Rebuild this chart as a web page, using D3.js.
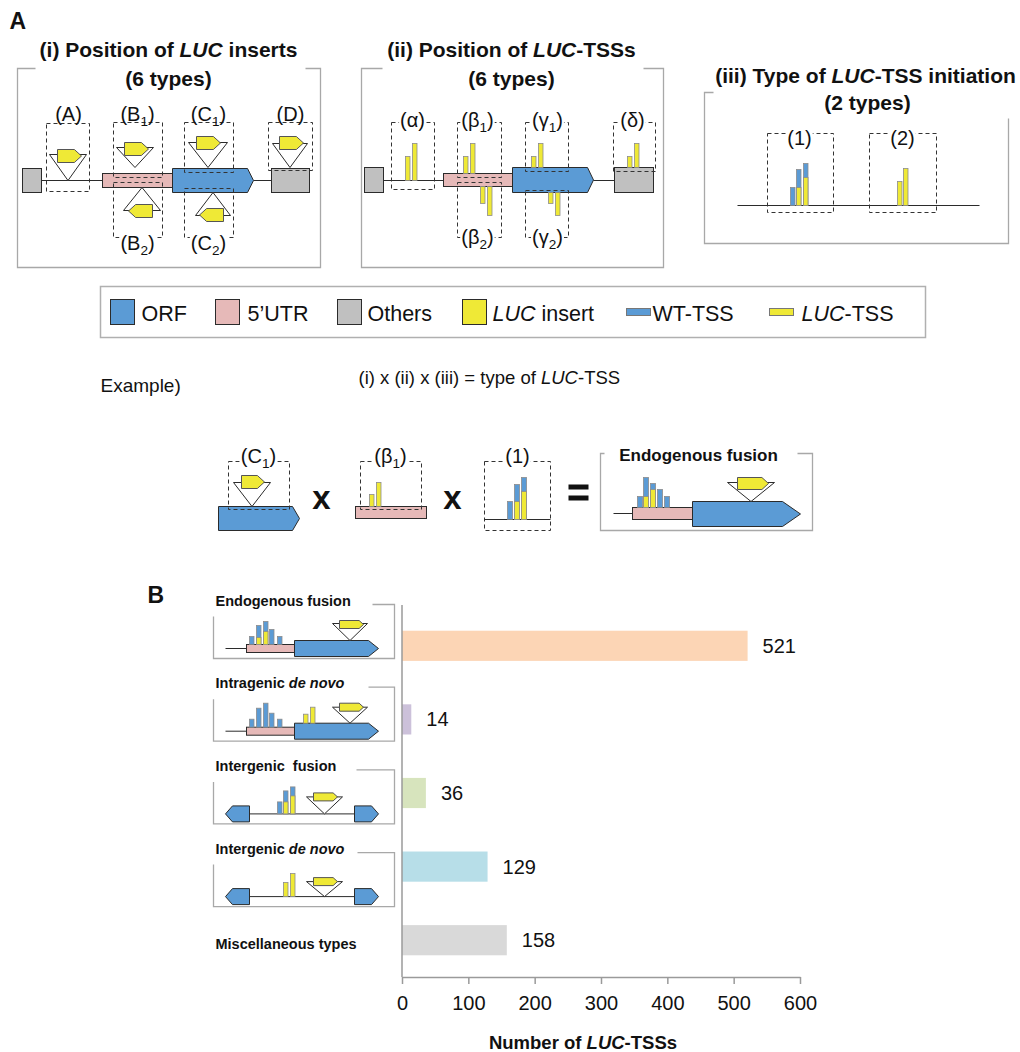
<!DOCTYPE html>
<html>
<head>
<meta charset="utf-8">
<script src="https://cdn.jsdelivr.net/npm/d3@7"></script>
<style>
  body { margin: 0; background: #fff; }
  svg { display: block; font-family: "Liberation Sans", Arial, Helvetica, sans-serif; }
  text { white-space: pre; }
</style>
</head>
<body>
<div id="fig"></div>
<script>
// ---- data (panel B) ----
const categories = ["Endogenous fusion", "Intragenic de novo", "Intergenic  fusion", "Intergenic de novo", "Miscellaneous types"];
const counts = [521, 14, 36, 129, 158];
const barColors = ["#fcd5b5", "#ccc1da", "#d7e4bd", "#b7dee8", "#d9d9d9"];
const xTicks = [0, 100, 200, 300, 400, 500, 600];
const legendLabels = ["ORF", "5\u2019UTR", "Others", "*LUC| insert", "WT-TSS", "*LUC|-TSS"];

const BLUE = "#5b9bd5", PINK = "#e6b9b8", GREY = "#c0c0c0", YEL = "#efe936";
const INK = "#2b2b2b", FRAME = "#a8a8a8", BAR_EDGE = "#8c8c8c";

const svg = d3.select("#fig").append("svg").attr("width", 1020).attr("height", 1052);
// schematics sit on half pixels so the thin strokes stay crisp
const g = svg.append("g").attr("transform", "translate(0.5,0.5)");
const gb = svg.append("g");

// ---- little drawing helpers for the schematics ----
function block(x0, x1, y0, y1, fill) {
  g.append("rect").attr("x", x0).attr("y", y0).attr("width", x1 - x0).attr("height", y1 - y0)
    .attr("fill", fill).attr("stroke", INK).attr("stroke-width", 1);
}
function gene(x0, x1, y0, y1, tip, dir) {
  const m = (y0 + y1) / 2;
  const pts = dir > 0
    ? [[x0, y0], [x1 - tip, y0], [x1, m], [x1 - tip, y1], [x0, y1]]
    : [[x1, y0], [x0 + tip, y0], [x0, m], [x0 + tip, y1], [x1, y1]];
  g.append("polygon").attr("points", pts.join(" ")).attr("fill", BLUE).attr("stroke", INK).attr("stroke-width", 1);
}
function hline(x0, x1, y, color = INK, w = 1) {
  g.append("line").attr("x1", x0).attr("x2", x1).attr("y1", y).attr("y2", y).attr("stroke", color).attr("stroke-width", w);
}
function pent(x, y, w, h, dir) {
  const t = h * 0.55, m = y + h / 2;
  const pts = dir > 0
    ? [[x, y], [x + w - t, y], [x + w, m], [x + w - t, y + h], [x, y + h]]
    : [[x + w, y], [x + t, y], [x, m], [x + t, y + h], [x + w, y + h]];
  g.append("polygon").attr("points", pts.join(" ")).attr("fill", YEL).attr("stroke", "#555").attr("stroke-width", 1);
}
function insert(x0, x1, baseY, apexY, px, py, pw, ph, dir) {
  g.append("polygon").attr("points", [[x0, baseY], [x1, baseY], [(x0 + x1) / 2, apexY]].join(" "))
    .attr("fill", "#fff").attr("stroke", INK).attr("stroke-width", 1);
  pent(px, py, pw, ph, dir);
}
function tss(x, base, top, fill, w = 4.5) {
  g.append("rect").attr("x", x).attr("y", Math.min(base, top)).attr("width", w).attr("height", Math.abs(base - top))
    .attr("fill", fill).attr("stroke", BAR_EDGE).attr("stroke-width", 0.8);
}
function stack(x, base, blueTop, yelTop, w) {
  tss(x, base, blueTop, BLUE, w);
  if (yelTop != null) tss(x, base, yelTop, YEL, w);
}
function dash(x0, y0, x1, y1) {
  g.append("rect").attr("x", x0).attr("y", y0).attr("width", x1 - x0).attr("height", y1 - y0)
    .attr("fill", "none").attr("stroke", "#333").attr("stroke-width", 1).attr("stroke-dasharray", "4,3");
}
function frame(d) {
  g.append("path").attr("d", d).attr("fill", "none").attr("stroke", FRAME).attr("stroke-width", 1.3);
}
function tag(cx, cy, main, sub, size = 20) {
  const t = g.append("text").attr("x", cx).attr("y", cy).attr("dy", "0.35em")
    .attr("text-anchor", "middle").attr("font-size", size).attr("fill", "#111");
  t.append("tspan").text("(" + main);
  if (sub) {
    t.append("tspan").attr("font-size", size * 0.68).attr("dy", size * 0.28).text(sub);
    t.append("tspan").attr("dy", -size * 0.28).text(")");
  } else t.append("tspan").text(")");
  const bb = t.node().getBBox();
  g.insert("rect", () => t.node()).attr("x", bb.x - 1).attr("y", cy - size * 0.4)
    .attr("width", bb.width + 2).attr("height", size * 0.8).attr("fill", "#fff");
}
// text with "*italic|" pieces
function rich(x, y, str, size, opts = {}) {
  const t = (opts.layer || g).append("text").attr("x", x).attr("y", y).attr("font-size", size)
    .attr("font-weight", opts.bold ? "bold" : null).attr("text-anchor", opts.anchor || "start").attr("fill", "#111");
  str.split(/(\*[^|]*\|)/).filter(s => s.length).forEach(s => {
    const it = s.startsWith("*");
    t.append("tspan").attr("font-style", it ? "italic" : null).text(it ? s.slice(1, -1) : s);
  });
  return t;
}

// ---- panel letters ----
rich(9, 28, "A", 23, { bold: true });
rich(147, 602, "B", 23, { bold: true });

// ---- (i) Position of LUC inserts ----
rich(168, 56, "(i) Position of *LUC| inserts", 21, { bold: true, anchor: "middle" });
rich(168, 85, "(6 types)", 21, { bold: true, anchor: "middle" });
frame("M35,68 H17 V267 H320 V68 H305");
hline(41, 102, 180); hline(253, 271, 180);
block(22, 41, 168, 192, GREY);
block(102, 172, 173, 187, PINK);
gene(172, 253, 168, 192, 6, 1);
block(271, 309, 168, 192, GREY);
dash(46, 123, 89, 191);
dash(113, 122, 162, 177); dash(113, 182, 162, 237);
dash(184, 122, 233, 172); dash(184, 188, 233, 237);
dash(268, 122, 312, 170);
insert(49, 86, 154, 180, 57, 149, 24, 13, 1);
insert(116, 153, 147, 167, 124, 142, 24, 13, 1);
insert(123, 160, 210, 187, 128, 204, 24, 13, -1);
insert(188, 227, 142, 167, 196, 136, 24, 13, 1);
insert(195, 230, 215, 192, 199, 208, 24, 13, -1);
insert(272, 307, 143, 167, 279, 136, 24, 13, 1);
tag(68, 113, "A"); tag(137, 113, "B", "1"); tag(208, 113, "C", "1"); tag(290, 113, "D");
tag(137, 242, "B", "2"); tag(208, 242, "C", "2");

// ---- (ii) Position of LUC-TSSs ----
rich(511, 56, "(ii) Position of *LUC|-TSSs", 21, { bold: true, anchor: "middle" });
rich(511, 85, "(6 types)", 21, { bold: true, anchor: "middle" });
frame("M382,68 H361 V267 H663 V68 H643");
hline(383, 443, 180); hline(593, 614, 180);
block(364, 383, 167, 192, GREY);
block(443, 512, 173, 186, PINK);
gene(512, 593, 167, 192, 6, 1);
block(614, 653, 167, 192, GREY);
dash(391, 122, 434, 189);
dash(457, 122, 501, 177); dash(457, 182, 501, 237);
dash(525, 122, 568, 171); dash(525, 190, 568, 237);
dash(613, 122, 655, 171);
tss(405, 180, 156, YEL); tss(412, 180, 143, YEL);
tss(463, 173, 156, YEL); tss(470, 173, 143, YEL);
tss(480, 186, 203, YEL); tss(487, 186, 215, YEL);
tss(531, 167, 156, YEL); tss(538, 167, 143, YEL);
tss(548, 192, 203, YEL); tss(555, 192, 215, YEL);
tss(627, 167, 156, YEL); tss(634, 167, 143, YEL);
tag(412, 119, "\u03b1"); tag(477, 119, "\u03b2", "1"); tag(547, 119, "\u03b3", "1"); tag(632, 119, "\u03b4");
tag(477, 236, "\u03b2", "2"); tag(547, 236, "\u03b3", "2");

// ---- (iii) Type of LUC-TSS initiation ----
rich(865, 82, "(iii) Type of *LUC|-TSS initiation", 21, { bold: true, anchor: "middle" });
rich(867, 109, "(2 types)", 21, { bold: true, anchor: "middle" });
frame("M713,92 H704 V243 H1008 V118");
hline(737, 979, 205);
dash(767, 133, 833, 212); dash(869, 133, 936, 212);
stack(790, 205, 187, null, 4.5); stack(796, 205, 169, 187, 4.5); stack(803, 205, 163, 177, 4.5);
tss(897, 205, 181, YEL); tss(903, 205, 168, YEL);
tag(799, 137, "1"); tag(902, 137, "2");

// ---- legend ----
g.append("rect").attr("x", 100).attr("y", 286).attr("width", 825).attr("height", 51)
  .attr("fill", "none").attr("stroke", "#b0b0b0").attr("stroke-width", 1.5);
const legendSw = [[110, BLUE, "big"], [215, PINK, "big"], [337, GREY, "big"], [462, YEL, "big"], [626, BLUE, "small"], [769, YEL, "small"]];
const legendTx = [141, 247, 367, 492, 652, 801];
legendLabels.forEach((lab, i) => {
  const [sx, col, kind] = legendSw[i];
  if (kind === "big") g.append("rect").attr("x", sx).attr("y", 299).attr("width", 24).attr("height", 25)
    .attr("fill", col).attr("stroke", INK).attr("stroke-width", 1);
  else g.append("rect").attr("x", sx).attr("y", 308).attr("width", 24).attr("height", 7)
    .attr("fill", col).attr("stroke", "#777").attr("stroke-width", 1);
  rich(legendTx[i], 320, lab, 21.5);
});

// ---- example row ----
rich(100, 391, "Example)", 19);
rich(358, 383, "(i) x (ii) x (iii) = type of *LUC|-TSS", 18.5);
// (C1)
gene(218, 299, 506, 530, 7, 1);
dash(228, 461, 289, 509);
insert(233, 270, 482, 506, 241, 475, 23, 13, 1);
tag(258, 455, "C", "1");
rich(321, 508, "x", 33, { bold: true, anchor: "middle" });
// (beta1)
block(355, 426, 506, 518, PINK);
dash(360, 461, 421, 509);
tss(369, 506, 494, YEL); tss(376, 506, 482, YEL);
tag(390, 455, "\u03b2", "1");
rich(452, 508, "x", 33, { bold: true, anchor: "middle" });
// (1)
dash(484, 461, 550, 530);
hline(484, 550, 519);
stack(507, 519, 501, null, 5); stack(514, 519, 484, 501, 5); stack(521, 519, 477, 491, 5);
tag(517, 455, "1");
g.append("rect").attr("x", 568).attr("y", 484).attr("width", 20).attr("height", 5).attr("fill", "#111");
g.append("rect").attr("x", 568).attr("y", 495).attr("width", 20).attr("height", 5).attr("fill", "#111");
// result
frame("M604,453 H600 V530 H812 V453 H797");
rich(698, 460, "Endogenous fusion", 17, { bold: true, anchor: "middle" });
hline(613, 632, 513);
block(632, 692, 507, 519, PINK);
gene(692, 800, 501, 526, 18, 1);
stack(637, 507, 496, null, 5); stack(643, 507, 477, 496, 5); stack(650, 507, 483, 489, 5);
stack(657, 507, 489, null, 5); stack(664, 507, 496, null, 5);
insert(727, 774, 482, 501, 737, 477, 31, 12, 1);

// ---- panel B: schematics column ----
const catLabels = ["Endogenous fusion", "Intragenic *de novo|", "Intergenic  fusion", "Intergenic *de novo|", "Miscellaneous types"];
const lineStart = [372, 368, 356, 357];
catLabels.forEach((lab, i) => {
  const T = 604 + 82.7 * i;
  rich(215, i < 4 ? T + 1 : 948, lab, 14.5, { bold: true });
  if (i > 3) return;
  frame(`M${lineStart[i]},${T} H394 V${T + 54} H213 V${T + 12}`);
  if (i < 2) {
    hline(225, 246, T + 44);
    block(246, 294, T + 40, T + 48, PINK);
    gene(294, 378, T + 36, T + 52, 10, 1);
    if (i === 0) {
      const tops = [32, 21, 17, 25, 32], yel = [null, 33, 27, null, null];
      [249, 256, 263, 269, 277].forEach((bx, k) => stack(bx, T + 40, T + tops[k], yel[k] == null ? null : T + yel[k], 4.5));
      insert(332, 367, T + 19, T + 36, 339, T + 16, 24, 8, 1);
    } else {
      const tops = [32, 21, 16, 26, 32];
      [249, 256, 263, 269, 277].forEach((bx, k) => stack(bx, T + 40, T + tops[k], null, 4.5));
      tss(303, T + 36, T + 27, YEL); tss(310, T + 36, T + 20, YEL);
      insert(332, 367, T + 20, T + 36, 339, T + 16, 24, 8, 1);
    }
  } else {
    hline(249, 354, T + 44);
    gene(225, 249, T + 36, T + 52, 7, -1);
    gene(354, 378, T + 36, T + 52, 7, 1);
    if (i === 2) {
      stack(277, T + 44, T + 32, null, 4.5); stack(283, T + 44, T + 21, T + 32, 4.5); stack(290, T + 44, T + 17, T + 26, 4.5);
      insert(306, 342, T + 27, T + 44, 313, T + 23, 24, 8, 1);
    } else {
      tss(283, T + 44, T + 30, YEL); tss(290, T + 44, T + 21, YEL);
      insert(306, 342, T + 29, T + 44, 313, T + 25, 24, 8, 1);
    }
  }
});

// ---- panel B: bar chart ----
const x = d3.scaleLinear().domain([0, 600]).range([402, 800]);
const y = d3.scaleBand().domain(categories).range([609, 977]).paddingInner(0.59).paddingOuter(0.295);

gb.selectAll(".bar")
  .data(categories)
  .join("rect")
  .attr("class", "bar")
  .attr("x", x(0))
  .attr("y", d => y(d))
  .attr("width", (d, i) => x(counts[i]) - x(0))
  .attr("height", y.bandwidth())
  .attr("fill", (d, i) => barColors[i]);

gb.selectAll(".val")
  .data(categories)
  .join("text")
  .attr("class", "val")
  .attr("x", (d, i) => x(counts[i]) + 15)
  .attr("y", d => y(d) + y.bandwidth() / 2)
  .attr("dy", "0.35em")
  .attr("font-size", 20)
  .attr("fill", "#111")
  .text((d, i) => counts[i]);

const xAxis = gb.append("g")
  .attr("transform", "translate(0,977)")
  .call(d3.axisBottom(x).tickValues(xTicks).tickSize(7).tickSizeOuter(0).tickPadding(12));
xAxis.attr("font-family", null);
xAxis.select(".domain").attr("stroke", "#9a9a9a").attr("stroke-width", 1.5);
xAxis.selectAll(".tick line").attr("stroke", "#9a9a9a").attr("stroke-width", 1.5);
xAxis.selectAll(".tick text").attr("font-size", 20).attr("fill", "#111");

gb.append("line").attr("x1", x(0)).attr("x2", x(0)).attr("y1", 605).attr("y2", 977)
  .attr("stroke", "#9a9a9a").attr("stroke-width", 1.5);

rich(583, 1049, "Number of *LUC|-TSSs", 18.5, { bold: true, anchor: "middle", layer: gb });
</script>
</body>
</html>
